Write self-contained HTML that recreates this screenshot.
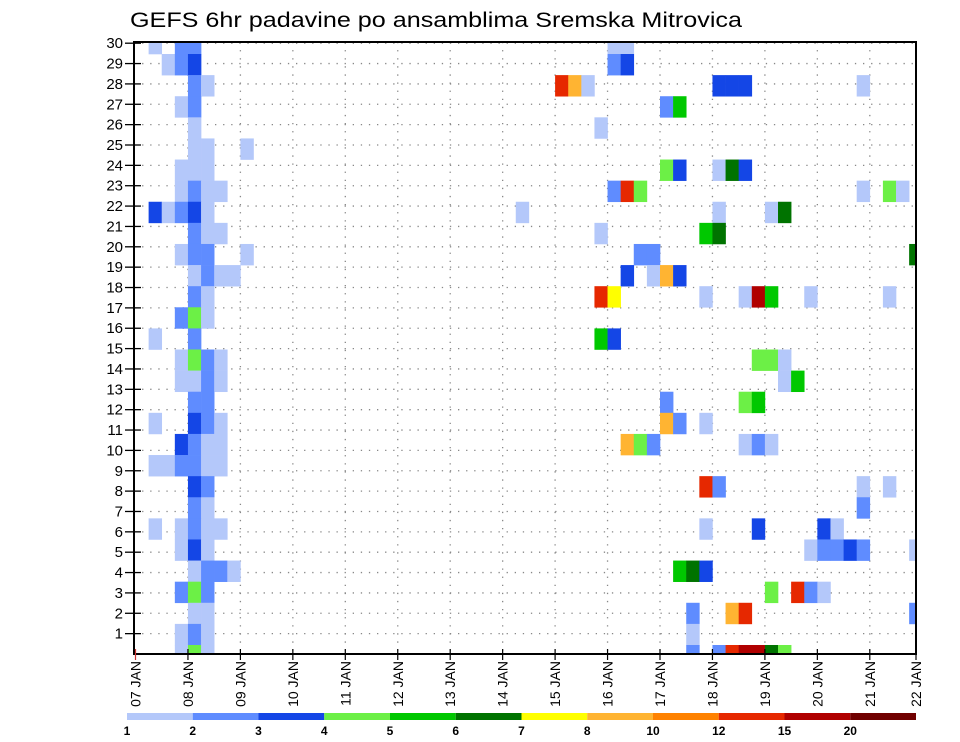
<!DOCTYPE html>
<html><head><meta charset="utf-8"><style>
html,body{margin:0;padding:0;background:#fff;}
svg{display:block;font-family:"Liberation Sans",sans-serif;}
</style></head><body>
<svg id="chart" width="960" height="742" viewBox="0 0 960 742" xmlns="http://www.w3.org/2000/svg">
<rect x="0" y="0" width="960" height="742" fill="#fff"/>
<text x="130" y="27" font-size="21" textLength="612" lengthAdjust="spacingAndGlyphs" fill="#000">GEFS 6hr padavine po ansamblima Sremska Mitrovica</text>
<defs><clipPath id="plotclip"><rect x="134" y="42" width="782" height="612"/></clipPath></defs>
<g id="grid"></g>
<g id="cells" clip-path="url(#plotclip)"></g>
<rect x="134" y="42" width="782" height="612" fill="none" stroke="#000" stroke-width="2"/>
<g id="yaxis"></g>
<g id="xaxis"></g>
<g id="legend"></g>
</svg>
<script>
// ---- data ----
const dayLabels = ["07 JAN","08 JAN","09 JAN","10 JAN","11 JAN","12 JAN","13 JAN","14 JAN","15 JAN","16 JAN","17 JAN","18 JAN","19 JAN","20 JAN","21 JAN","22 JAN"];
const memberTicks = [1,2,3,4,5,6,7,8,9,10,11,12,13,14,15,16,17,18,19,20,21,22,23,24,25,26,27,28,29,30];
const legendBounds = [1,2,3,4,5,6,7,8,10,12,15,20,30];
const legendLabels = ["1","2","3","4","5","6","7","8","10","12","15","20"];
const legendColors = ["#b4c8fa","#5f8cff","#1446e6","#6cf046","#00c800","#007300","#ffff00","#ffb432","#ff8200","#e62800","#b00000","#700000"];
// cell time index (6-hourly steps from 07 JAN 00Z), row index, precipitation value (mm)
const cellCols = [
1,3,4, 2,3,4, 4,5, 3,4, 4, 4,5,8, 3,4,5, 3,4,5,6, 1,2,3,4,5, 4,5,6, 3,4,5,8, 4,5,6,7, 4,5, 3,4,5, 1,4,
3,4,5,6, 3,4,5,6, 4,5, 1,4,5,6, 3,4,5,6, 1,2,3,4,5,6, 4,5, 4,5, 1,3,4,5,6, 3,4,5, 4,5,6,7, 3,4,5, 4,5, 3,4,5, 3,4,5,
36,37, 36,37, 32,33,34,44,45,46,55, 40,41, 35, 40,41,44,45,46, 36,37,38,55,57,58, 29,44,48,49, 35,43,44, 38,39,59,
37,39,40,41, 35,36,43,46,47,48,51,57, 35,36, 47,48,49, 49,50, 40,46,47, 40,41,43, 37,38,39,46,47,48, 43,44,55,57,
55, 43,47,52,53, 51,52,53,54,55,59, 41,42,43, 48,50,51,52, 42,45,46,59, 42, 42,44,45,46,47,48,49];
const cellRows = [
29,29,29, 28,28,28, 27,27, 26,26, 25, 24,24,24, 23,23,23, 22,22,22,22, 21,21,21,21,21, 20,20,20, 19,19,19,19, 18,18,18,18, 17,17, 16,16,16, 15,15,
14,14,14,14, 13,13,13,13, 12,12, 11,11,11,11, 10,10,10,10, 9,9,9,9,9,9, 8,8, 7,7, 6,6,6,6,6, 5,5,5, 4,4,4,4, 3,3,3, 2,2, 1,1,1, 0,0,0,
29,29, 28,28, 27,27,27,27,27,27,27, 26,26, 25, 23,23,23,23,23, 22,22,22,22,22,22, 21,21,21,21, 20,20,20, 19,19,19,
18,18,18,18, 17,17,17,17,17,17,17,17, 15,15, 14,14,14, 13,13, 12,12,12, 11,11,11, 10,10,10,10,10,10, 8,8,8,8,
7, 6,6,6,6, 5,5,5,5,5,5, 4,4,4, 3,3,3,3, 2,2,2,2, 1, 0,0,0,0,0,0,0];
const cellVals = [
1.5,2.5,2.5, 1.5,2.5,3.5, 2.5,1.5, 1.5,2.5, 1.5, 1.5,1.5,1.5, 1.5,1.5,1.5, 1.5,2.5,1.5,1.5, 3.5,1.5,2.5,3.5,1.5, 2.5,1.5,1.5, 1.5,2.5,2.5,1.5, 1.5,2.5,1.5,1.5, 2.5,1.5, 2.5,4.5,1.5, 1.5,2.5,
1.5,4.5,2.5,1.5, 1.5,1.5,2.5,1.5, 2.5,2.5, 1.5,3.5,2.5,1.5, 3.5,2.5,1.5,1.5, 1.5,1.5,2.5,2.5,1.5,1.5, 3.5,2.5, 2.5,1.5, 1.5,1.5,2.5,1.5,1.5, 1.5,3.5,1.5, 1.5,2.5,2.5,1.5, 2.5,4.5,2.5, 1.5,1.5, 1.5,2.5,1.5, 1.5,4.5,1.5,
1.5,1.5, 2.5,3.5, 13,9,1.5,3.5,3.5,3.5,1.5, 2.5,5.5, 1.5, 4.5,3.5,1.5,6.5,3.5, 2.5,13,4.5,1.5,4.5,1.5, 1.5,1.5,1.5,6.5, 1.5,5.5,6.5, 2.5,2.5,6.5,
3.5,1.5,9,3.5, 13,7.5,1.5,1.5,17,5.5,1.5,1.5, 5.5,3.5, 4.5,4.5,1.5, 1.5,5.5, 2.5,4.5,5.5, 9,2.5,1.5, 9,4.5,2.5,1.5,2.5,1.5, 13,2.5,1.5,1.5,
2.5, 1.5,3.5,3.5,1.5, 1.5,2.5,2.5,3.5,2.5,1.5, 5.5,6.5,3.5, 4.5,13,2.5,1.5, 2.5,9,13,2.5, 1.5, 2.5,2.5,13,17,17,6.5,4.5];

// ---- scales ----
const PL=134, PT=42, PR=916, PB=654;
const dayW = 52.45, stepW = dayW/4, x0 = 135.5;
function xTime(step){ return x0 + step*stepW; }
function xDay(d){ return Math.min(x0 + d*dayW, PR); }
const rowH = 21.107;
function yCellTop(r){ return 645 - rowH*r; }
const tickGap = 20.36;
function yTick(m){ return PB - tickGap*m; }
function colorFor(v){
  for(let i=0;i<legendColors.length;i++){ if(v>=legendBounds[i] && v<legendBounds[i+1]) return legendColors[i]; }
  return legendColors[legendColors.length-1];
}
const NS="http://www.w3.org/2000/svg";
function mk(tag, attrs, parent){ const e=document.createElementNS(NS,tag); for(const k in attrs) e.setAttribute(k, attrs[k]); parent.appendChild(e); return e; }

// grid
const grid=document.getElementById('grid');
memberTicks.forEach(m=>{
  const y=yTick(m);
  const l=mk('line',{x1:PL,x2:PR,y1:y,y2:y,stroke:'#888','stroke-width':1.3,'stroke-dasharray':'1.3 6.8'},grid);
  
  
});
for(let d=1; d<dayLabels.length-1; d++){
  const x=xDay(d);
  const l=mk('line',{x1:x,x2:x,y1:PT,y2:PB,stroke:'#888','stroke-width':1.3,'stroke-dasharray':'1.3 6.8'},grid);
  
  
}

// cells
const cells=document.getElementById('cells');
for(let i=0;i<cellVals.length;i++){
  const r=mk('rect',{x:xTime(cellCols[i]),y:yCellTop(cellRows[i]),width:stepW+0.3,height:rowH+0.3,fill:colorFor(cellVals[i])},cells);
  
  
}

// y axis
const ya=document.getElementById('yaxis');
memberTicks.forEach(m=>{
  const y=yTick(m);
  const t=mk('line',{x1:125,x2:141,y1:y,y2:y,stroke:'#000','stroke-width':1.3},ya);
  
  
  const tx=mk('text',{x:123,y:y+5,'text-anchor':'end','font-size':15,fill:'#000'},ya);
  tx.textContent=String(m);
  
  
});

// x axis
const xa=document.getElementById('xaxis');
dayLabels.forEach((lab,d)=>{
  const x=xDay(d);
  const t=mk('line',{x1:x,x2:x,y1:PB-5,y2:PB+6,stroke:d===0?'#c33':'#000','stroke-width':1.2},xa);
  
  
  const tx=mk('text',{x:0,y:0,'text-anchor':'end','font-size':14,fill:'#000',transform:'translate('+(x+5)+','+(PB+7)+') rotate(-90)'},xa);
  tx.textContent=lab;
  
  
});

// legend
const lg=document.getElementById('legend');
const lx0=127, lx1=916, segW=(lx1-lx0)/legendColors.length;
legendColors.forEach((c,i)=>{
  const r=mk('rect',{x:lx0+i*segW,y:713,width:segW,height:7,fill:c},lg);
  
  
  const tx=mk('text',{x:lx0+i*segW,y:735,'text-anchor':'middle','font-size':12,'font-weight':'bold',fill:'#000'},lg);
  tx.textContent=legendLabels[i];
  
  
});
</script>
</body></html>
